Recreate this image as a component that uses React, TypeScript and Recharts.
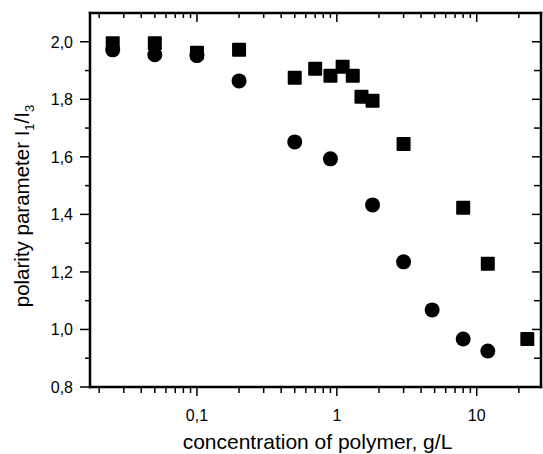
import React from 'react';
import { ScatterChart, Scatter, XAxis, YAxis } from 'recharts';

// Series 1 (circles)
const circleX = [0.025, 0.05, 0.1, 0.2, 0.5, 0.9, 1.8, 3, 4.8, 8, 12];
const circleY = [1.972, 1.955, 1.952, 1.864, 1.652, 1.593, 1.433, 1.235, 1.068, 0.967, 0.925];
// Series 2 (squares)
const squareX = [0.025, 0.05, 0.1, 0.2, 0.5, 0.7, 0.9, 1.1, 1.3, 1.5, 1.8, 3, 8, 12, 23];
const squareY = [1.995, 1.995, 1.962, 1.972, 1.875, 1.906, 1.882, 1.913, 1.882, 1.809, 1.795, 1.645, 1.423, 1.228, 0.967];

// Tick values
const xMajorTicks = [0.1, 1, 10];
const xMinorTicks = [0.02, 0.03, 0.04, 0.05, 0.06, 0.07, 0.08, 0.09, 0.2, 0.3, 0.4, 0.5, 0.6, 0.7, 0.8, 0.9, 2, 3, 4, 5, 6, 7, 8, 9, 20];
const xTickLabels = ['0,1', '1', '10'];
const yMajorTicks = [0.8, 1.0, 1.2, 1.4, 1.6, 1.8, 2.0];
const yMinorTicks = [0.9, 1.1, 1.3, 1.5, 1.7, 1.9];
const yTickLabels = ['0,8', '1,0', '1,2', '1,4', '1,6', '1,8', '2,0'];

const xDomain = [0.0172, 28.8];
const yDomain = [0.8, 2.1];

const xLabel = 'concentration of polymer, g/L';

const circleData = circleX.map((x, i) => ({ x, y: circleY[i] }));
const squareData = squareX.map((x, i) => ({ x, y: squareY[i] }));
const allXTicks = [...xMinorTicks, ...xMajorTicks].sort((a, b) => a - b);
const allYTicks = [...yMinorTicks, ...yMajorTicks].sort((a, b) => a - b);

const FONT = '"Liberation Sans", Arial, Helvetica, sans-serif';
const idx = (arr: number[], v: number) => arr.findIndex((a) => Math.abs(a - v) < 1e-9);

const BottomTick = (props: any) => {
  const { x, y, payload } = props;
  const i = idx(xMajorTicks, payload.value);
  const major = i >= 0;
  return (
    <g>
      <line x1={x} x2={x} y1={y} y2={y + (major ? 9 : 6)} stroke="#000" strokeWidth={1.5} />
      {major && (
        <text x={x} y={y + 34} textAnchor="middle" fontSize={16} fontFamily={FONT} fill="#000">
          {xTickLabels[i]}
        </text>
      )}
    </g>
  );
};

const TopTick = (props: any) => {
  const { x, y, payload } = props;
  const major = idx(xMajorTicks, payload.value) >= 0;
  return <line x1={x} x2={x} y1={y} y2={y + (major ? 9 : 5)} stroke="#000" strokeWidth={1.5} />;
};

const LeftTick = (props: any) => {
  const { x, y, payload } = props;
  const i = idx(yMajorTicks, payload.value);
  const major = i >= 0;
  return (
    <g>
      <line x1={x - (major ? 10 : 5)} x2={x} y1={y} y2={y} stroke="#000" strokeWidth={1.5} />
      {major && (
        <text x={x - 17} y={y + 6} textAnchor="end" fontSize={16} fontFamily={FONT} fill="#000">
          {yTickLabels[i]}
        </text>
      )}
    </g>
  );
};

const RightTick = (props: any) => {
  const { x, y, payload } = props;
  const major = idx(yMajorTicks, payload.value) >= 0;
  return <line x1={x - (major ? 9 : 7)} x2={x} y1={y} y2={y} stroke="#000" strokeWidth={1.5} />;
};

const CircleShape = (props: any) => {
  const { cx, cy } = props;
  return <circle cx={cx} cy={cy} r={7.5} fill="#000" />;
};

const SquareShape = (props: any) => {
  const { cx, cy } = props;
  return <rect x={cx - 7} y={cy - 7} width={14} height={14} rx={1} fill="#000" />;
};

const YLabel = (props: any) => {
  const vb = props.viewBox || { x: 0, y: 13, width: 90, height: 374 };
  const cx = vb.x + 29;
  const cy = vb.y + vb.height / 2 + 6;
  return (
    <text
      x={cx}
      y={cy}
      transform={`rotate(-90, ${cx}, ${cy})`}
      textAnchor="middle"
      fontSize={20.5}
      fontFamily={FONT}
      fill="#000"
    >
      <tspan>polarity parameter I</tspan>
      <tspan fontSize={13} dy={5}>1</tspan>
      <tspan dy={-5}>/I</tspan>
      <tspan fontSize={13} dy={5}>3</tspan>
    </text>
  );
};

const XLabel = (props: any) => {
  const vb = props.viewBox || { x: 90, y: 387, width: 451, height: 67 };
  return (
    <text
      x={vb.x + vb.width / 2 + 2}
      y={vb.y + 62}
      textAnchor="middle"
      fontSize={21}
      fontFamily={FONT}
      fill="#000"
    >
      {xLabel}
    </text>
  );
};

const axisLine = { stroke: '#000', strokeWidth: 2.5, strokeLinecap: 'square' as const };

export default function App() {
  return (
    <div style={{ position: 'absolute', left: 0, top: 0, background: '#fff' }}>
      <ScatterChart width={543} height={454} margin={{ top: 12, right: 1, bottom: 0, left: 0 }}>
        <XAxis
          xAxisId="bottom"
          dataKey="x"
          type="number"
          scale="log"
          domain={xDomain}
          allowDataOverflow
          ticks={allXTicks}
          interval={0}
          tickSize={0}
          tickMargin={0}
          tickLine={false}
          tick={<BottomTick />}
          axisLine={axisLine}
          stroke="#000"
          height={67}
          orientation="bottom"
          label={<XLabel />}
        />
        <XAxis
          xAxisId="top"
          dataKey="x"
          type="number"
          scale="log"
          domain={xDomain}
          allowDataOverflow
          ticks={allXTicks}
          interval={0}
          tickSize={0}
          tickMargin={0}
          tickLine={false}
          tick={<TopTick />}
          axisLine={axisLine}
          stroke="#000"
          height={1}
          orientation="top"
        />
        <YAxis
          yAxisId="left"
          dataKey="y"
          type="number"
          domain={yDomain}
          allowDataOverflow
          ticks={allYTicks}
          interval={0}
          tickSize={0}
          tickMargin={0}
          tickLine={false}
          tick={<LeftTick />}
          axisLine={axisLine}
          stroke="#000"
          width={90}
          orientation="left"
          label={<YLabel />}
        />
        <YAxis
          yAxisId="right"
          dataKey="y"
          type="number"
          domain={yDomain}
          allowDataOverflow
          ticks={allYTicks}
          interval={0}
          tickSize={0}
          tickMargin={0}
          tickLine={false}
          tick={<RightTick />}
          axisLine={axisLine}
          stroke="#000"
          width={1}
          orientation="right"
        />
        <Scatter
          data={squareData}
          xAxisId="bottom"
          yAxisId="left"
          shape={<SquareShape />}
          isAnimationActive={false}
        />
        <Scatter
          data={circleData}
          xAxisId="bottom"
          yAxisId="left"
          shape={<CircleShape />}
          isAnimationActive={false}
        />
      </ScatterChart>
    </div>
  );
}
